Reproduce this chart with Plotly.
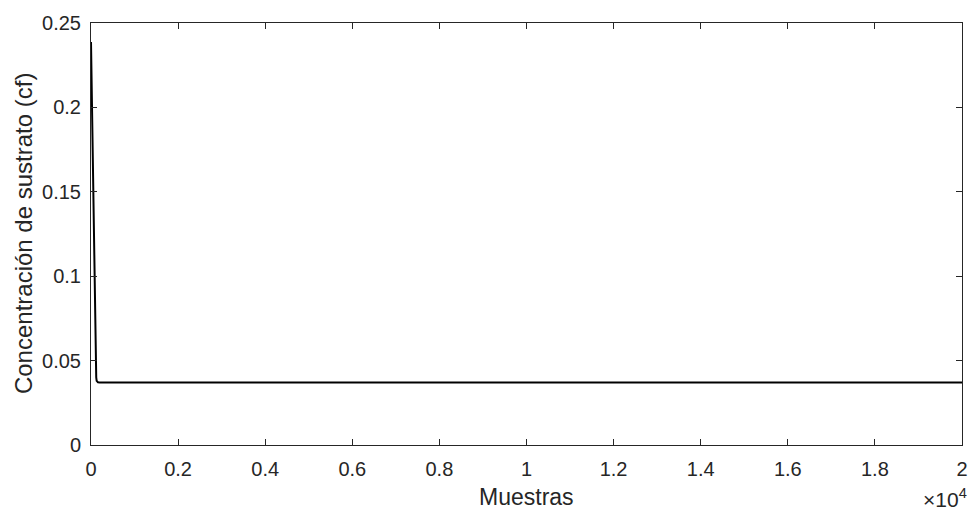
import plotly.graph_objects as go

# Data (samples, substrate concentration cf)
samples = [0, 10, 20, 30, 40, 50, 60, 70, 80, 90, 100, 110, 120, 130, 140, 160, 200, 500, 1000, 5000, 10000, 15000, 20000]
cf = [0.2388, 0.222, 0.204, 0.186, 0.166, 0.146, 0.126, 0.106, 0.087, 0.070, 0.055, 0.045, 0.040, 0.038, 0.0374, 0.0372, 0.0371, 0.0371, 0.0371, 0.0371, 0.0371, 0.0371, 0.0371]

x_tickvals = [0, 2000, 4000, 6000, 8000, 10000, 12000, 14000, 16000, 18000, 20000]
x_ticktext = ["0", "0.2", "0.4", "0.6", "0.8", "1", "1.2", "1.4", "1.6", "1.8", "2"]
y_tickvals = [0, 0.05, 0.1, 0.15, 0.2, 0.25]
y_ticktext = ["0", "0.05", "0.1", "0.15", "0.2", "0.25"]

FONT = "Liberation Sans, Arial, sans-serif"
AX = "#262626"

fig = go.Figure()
fig.add_trace(go.Scatter(x=samples, y=cf, mode="lines",
                         line=dict(color="black", width=2), showlegend=False))

axis_common = dict(showgrid=False, zeroline=False, showline=True, linecolor=AX, linewidth=1,
                   mirror="ticks", ticks="inside", ticklen=6, tickcolor=AX,
                   tickfont=dict(family=FONT, size=20, color=AX))

fig.update_xaxes(range=[0, 20000], tickvals=x_tickvals, ticktext=x_ticktext,
                 ticklabelstandoff=6, **axis_common)
fig.update_yaxes(range=[0, 0.25], tickvals=y_tickvals, ticktext=y_ticktext,
                 ticklabelstandoff=5, **axis_common)

# axis titles
fig.add_annotation(text="Muestras", xref="paper", yref="paper", x=0.5, y=-0.124,
                   xanchor="center", yanchor="middle", showarrow=False,
                   font=dict(family=FONT, size=23, color=AX))
fig.add_annotation(text="Concentración de sustrato (cf)", xref="paper", yref="paper",
                   x=-0.0775, y=0.501, xanchor="center", yanchor="middle", textangle=-90,
                   showarrow=False, font=dict(family=FONT, size=24, color=AX))
fig.add_annotation(text="×10<sup>4</sup>", xref="paper", yref="paper", x=1.008, y=-0.161,
                   xanchor="right", yanchor="bottom", showarrow=False,
                   font=dict(family=FONT, size=21, color=AX))

fig.update_layout(width=980, height=514, margin=dict(l=91, r=12, t=19, b=69),
                  plot_bgcolor="white", paper_bgcolor="white")

fig.write_html("out.html")
